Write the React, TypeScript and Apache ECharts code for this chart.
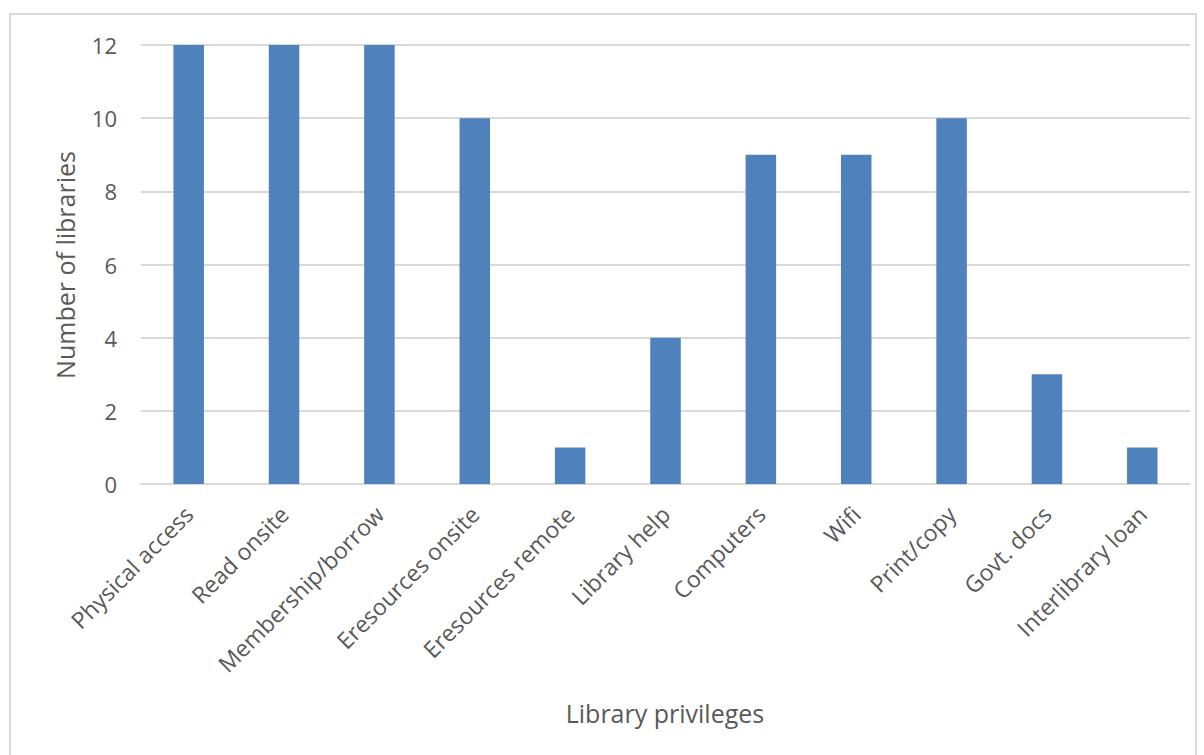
import React, { useEffect, useRef } from "react";
import * as echarts from "echarts";

const categories = [
  "Physical access",
  "Read onsite",
  "Membership/borrow",
  "Eresources onsite",
  "Eresources remote",
  "Library help",
  "Computers",
  "Wifi",
  "Print/copy",
  "Govt. docs",
  "Interlibrary loan",
];
const libraryCounts = [12, 12, 12, 10, 1, 4, 9, 9, 10, 3, 1];
const xTitle = "Library privileges";
const yTitle = "Number of libraries";

const FONT = "'Open Sans', sans-serif";
const TEXT = "#595959";

export default function App() {
  const ref = useRef<HTMLDivElement>(null);
  useEffect(() => {
    document.body.style.margin = "0";
    const chart = echarts.init(ref.current!, null, { renderer: "svg" });
    chart.setOption({
      animation: false,
      backgroundColor: "#ffffff",
      grid: { left: 141, right: 14, top: 45, bottom: 271, containLabel: false },
      xAxis: {
        type: "category",
        data: categories,
        axisLine: { show: true, lineStyle: { color: "#d9d9d9", width: 2 } },
        axisTick: { show: false },
        axisLabel: {
          interval: 0,
          rotate: 45,
          margin: 26,
          color: TEXT,
          fontFamily: FONT,
          fontSize: 23,
        },
      },
      yAxis: {
        type: "value",
        min: 0,
        max: 12,
        interval: 2,
        axisLine: { show: false },
        axisTick: { show: false },
        splitLine: { lineStyle: { color: "#d9d9d9", width: 2 } },
        axisLabel: {
          margin: 24,
          color: TEXT,
          fontFamily: FONT,
          fontSize: 22,
        },
      },
      series: [
        {
          type: "bar",
          data: libraryCounts,
          barWidth: "32%",
          itemStyle: { color: "#4f81bd" },
        },
      ],
      graphic: [
        {
          type: "rect",
          shape: { x: 10, y: 14, width: 1186, height: 760 },
          style: { fill: "none", stroke: "#d9d9d9", lineWidth: 2 },
          silent: true,
          z: -1,
        },
        {
          type: "text",
          x: 665,
          y: 713,
          style: {
            text: xTitle,
            fill: TEXT,
            font: `25px ${FONT}`,
            align: "center",
            verticalAlign: "middle",
          },
        },
        {
          type: "text",
          x: 65,
          y: 265,
          rotation: Math.PI / 2,
          style: {
            text: yTitle,
            fill: TEXT,
            font: `25px ${FONT}`,
            align: "center",
            verticalAlign: "middle",
          },
        },
      ],
    });
    return () => chart.dispose();
  }, []);
  return <div ref={ref} style={{ width: 1204, height: 755 }} />;
}
